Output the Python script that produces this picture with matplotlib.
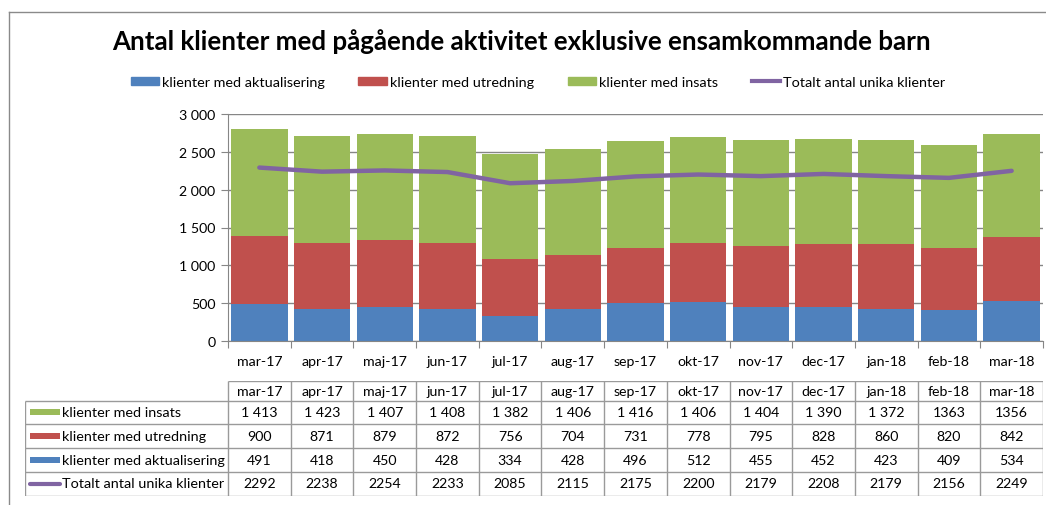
import matplotlib.pyplot as plt
from matplotlib.lines import Line2D
from matplotlib.patches import Patch
import numpy as np

plt.rcParams["font.family"] = ["Lato", "DejaVu Sans"]

months = ["mar-17", "apr-17", "maj-17", "jun-17", "jul-17", "aug-17", "sep-17",
          "okt-17", "nov-17", "dec-17", "jan-18", "feb-18", "mar-18"]
aktualisering = [491, 418, 450, 428, 334, 428, 496, 512, 455, 452, 423, 409, 534]
utredning = [900, 871, 879, 872, 756, 704, 731, 778, 795, 828, 860, 820, 842]
insats = [1413, 1423, 1407, 1408, 1382, 1406, 1416, 1406, 1404, 1390, 1372, 1363, 1356]
totalt = [2292, 2238, 2254, 2233, 2085, 2115, 2175, 2200, 2179, 2208, 2179, 2156, 2249]

# table text as shown in the source (some cells lack the thousands space)
insats_txt = ["1 413", "1 423", "1 407", "1 408", "1 382", "1 406", "1 416",
              "1 406", "1 404", "1 390", "1 372", "1363", "1356"]

names = ["klienter med aktualisering", "klienter med utredning",
         "klienter med insats", "Totalt antal unika klienter"]
BLUE, RED, GREEN, PURPLE = "#4F81BD", "#C0504D", "#9BBB59", "#8064A2"
GRID = "#868686"
W, H = 1046, 506

fig = plt.figure(figsize=(W / 100, H / 100), dpi=100)

def fx(px):
    return px / W

def fy(py):
    return 1 - py / H

# outer frame
fig.add_artist(Line2D([fx(9), 1], [fy(13), fy(13)], color="#8a8a8a", lw=1))
fig.add_artist(Line2D([fx(9), fx(9)], [fy(13), 0], color="#8a8a8a", lw=1))

fig.text(fx(521), fy(42), "Antal klienter med pågående aktivitet exklusive ensamkommande barn",
         ha="center", va="center", fontsize=18.6, fontweight="bold")

ax = fig.add_axes([fx(228), fy(342), fx(1043 - 228), (342 - 115) / H])
x = np.arange(len(months))
ax.bar(x, aktualisering, width=0.9, color=BLUE, zorder=2)
ax.bar(x, utredning, width=0.9, bottom=aktualisering, color=RED, zorder=2)
bottom2 = np.array(aktualisering) + np.array(utredning)
ax.bar(x, insats, width=0.9, bottom=bottom2, color=GREEN, zorder=2)
ax.plot(x, totalt, color=PURPLE, lw=3.2, solid_capstyle="round", zorder=3)

ax.set_xlim(-0.5, len(months) - 0.5)
ax.set_ylim(0, 3000)
ax.set_yticks(range(0, 3001, 500))
ax.set_yticklabels([f"{v:,}".replace(",", " ") for v in range(0, 3001, 500)], fontsize=10.2)
ax.yaxis.grid(True, color=GRID, lw=1, zorder=0)
ax.set_axisbelow(True)
ax.set_xticks(np.arange(-0.5, len(months)), minor=False)
ax.set_xticklabels([])
ax.set_xticks(x, minor=True)
ax.set_xticklabels(months, minor=True, fontsize=10.2)
ax.tick_params(axis="x", which="minor", length=0, pad=10)
ax.tick_params(axis="x", which="major", length=5, color=GRID)
ax.tick_params(axis="y", length=5, color=GRID, pad=4)
for s in ["top", "right"]:
    ax.spines[s].set_visible(False)
ax.spines["left"].set_color(GRID)
ax.spines["bottom"].set_color(GRID)

handles = [Patch(color=BLUE), Patch(color=RED), Patch(color=GREEN),
           Line2D([], [], color=PURPLE, lw=3)]
fig.legend(handles, names, loc="center", bbox_to_anchor=(fx(538), fy(83)), ncol=4,
           frameon=False, fontsize=10.4, handlelength=2.0, handleheight=0.45,
           handletextpad=0.2, columnspacing=2.3)

# data table
tax = fig.add_axes([fx(25), fy(497), fx(1043 - 25), (497 - 382) / H])
label_w = (228 - 25) / ((1043 - 228) / len(months))
x_left = -0.5 - label_w
tax.set_xlim(x_left, len(months) - 0.5)
tax.set_ylim(115, 0)
tax.axis("off")
rows_y = [0, 19.5, 43, 67, 90.5, 114.5]
LC = "#9a9a9a"
tax.hlines(rows_y[0], -0.5, len(months) - 0.5, color=LC, lw=1)
tax.hlines(rows_y[1:], x_left, len(months) - 0.5, color=LC, lw=1)
tax.vlines(np.arange(-0.5, len(months)), rows_y[0], rows_y[-1], color=LC, lw=1)
tax.vlines(x_left, rows_y[1], rows_y[-1], color=LC, lw=1)

for i, m in enumerate(months):
    tax.text(i, (rows_y[0] + rows_y[1]) / 2, m, ha="center", va="center", fontsize=10.2)

table_rows = [
    (names[2], GREEN, "patch", insats_txt),
    (names[1], RED, "patch", [str(v) for v in utredning]),
    (names[0], BLUE, "patch", [str(v) for v in aktualisering]),
    (names[3], PURPLE, "line", [str(v) for v in totalt]),
]
key_x0 = x_left + 5 / 62.7
key_x1 = x_left + 35 / 62.7
for r, (name, col, kind, vals) in enumerate(table_rows):
    yc = (rows_y[r + 1] + rows_y[r + 2]) / 2
    if kind == "patch":
        tax.fill_between([key_x0, key_x1], yc - 3, yc + 3, color=col, lw=0)
    else:
        tax.plot([key_x0, key_x1], [yc, yc], color=col, lw=3, solid_capstyle="round")
    tax.text(key_x1 + 2 / 62.7, yc, name, ha="left", va="center", fontsize=10.4)
    for i, v in enumerate(vals):
        tax.text(i, yc, v, ha="center", va="center", fontsize=10.2)

fig.savefig("out.png", dpi=100)
